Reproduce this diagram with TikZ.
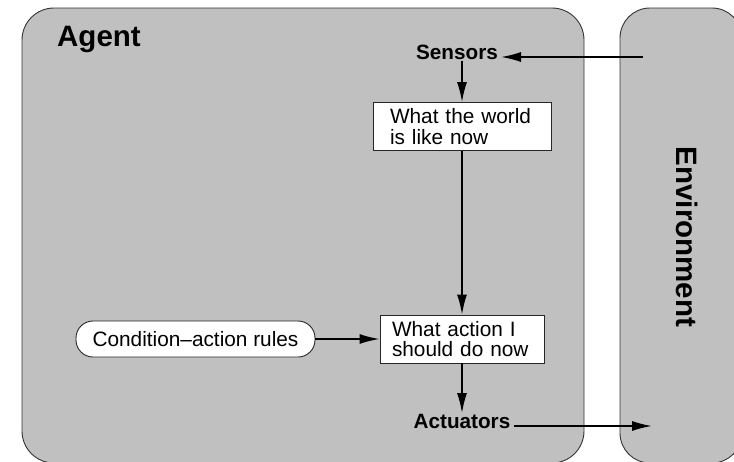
\documentclass[tikz,border=0pt]{standalone}
\usepackage{fontspec}
\setmainfont{Liberation Sans}
\usetikzlibrary{arrows.meta}
\definecolor{agentgray}{RGB}{192,192,192}

\begin{document}
\begin{tikzpicture}[
            x=1pt, y=1pt,
            region/.style={draw=black!80, fill=agentgray, line width=0.9pt},
            title/.style={font=\bfseries\fontsize{29.5}{32}\selectfont, inner sep=0pt},
            port/.style={font=\bfseries\fontsize{20.7}{23}\selectfont, inner xsep=3pt, inner ysep=1pt},
            statebox/.style={draw=black!85, fill=white, line width=0.9pt, align=left,
              font=\fontsize{20.8}{20.5}\selectfont, minimum height=48pt},
            rulebox/.style={draw=black!85, fill=white, line width=0.9pt, rounded corners=17pt,
              font=\fontsize{20.8}{22}\selectfont, minimum width=239pt, minimum height=36pt},
            flow/.style={-{Latex[length=20pt,width=10pt]}, line width=1.6pt},
            ]
            \useasboundingbox (0,0) rectangle (734,-461);
            % agent and environment regions
            \draw[region, rounded corners=32pt] (22,-8) rectangle (584,-463);
            \draw[region, rounded corners=30pt] (620,-8) rectangle (742,-463);
            \node[title, anchor=base west] (agent) at (57,-46) {Agent};
            \node[title, rotate=-90] (env) at (687,-237) {Environment};
            % inside the agent
            \node[port] (sensors) at (457,-52) {Sensors};
            \node[statebox, text width=144pt, inner xsep=17pt] (world) at (462,-126.5)
              {What the world\\is like now};
            \node[statebox, text width=140pt, inner xsep=12pt] (action) at (462,-339)
              {What action I\\should do now};
            \node[rulebox] (rules) at (195.5,-339) {Condition--action rules};
            \node[port] (actuators) at (462,-421.5) {Actuators};
            \coordinate (env-in) at (643,-57);
            \coordinate (env-out) at (652,-426);
            % connectors
            \draw[flow] (env-in) -- (sensors.east |- env-in);
            \draw[flow] (sensors.south -| world.north) -- (world.north);
            \draw[flow] (world.south) -- (action.north);
            \draw[flow] (rules.east) -- (action.west);
            \draw[flow] (action.south) -- (action.south |- actuators.north);
            \draw[flow] (actuators.east |- env-out) -- (env-out);
\end{tikzpicture}
\end{document}
